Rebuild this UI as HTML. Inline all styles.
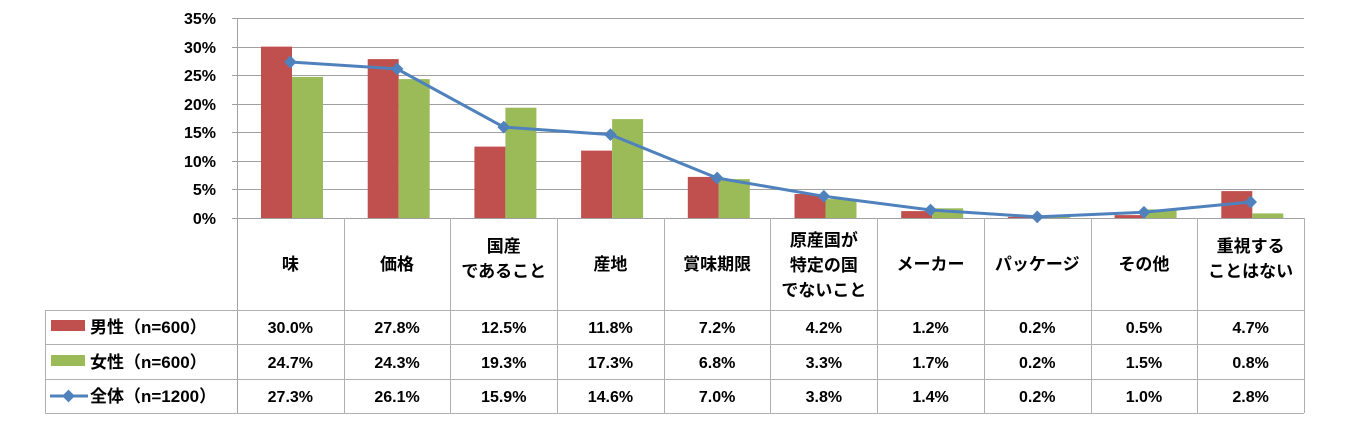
<!DOCTYPE html>
<html><head><meta charset="utf-8"><style>
body{margin:0;background:#fff}
text{font-family:"Liberation Sans","Noto Sans CJK JP",sans-serif;font-weight:bold;fill:#000}
</style></head><body>
<svg width="1361" height="433" xmlns="http://www.w3.org/2000/svg">
<g stroke="#a0a0a0" stroke-width="1">
<line x1="232" y1="18.5" x2="1304" y2="18.5"/>
<line x1="232" y1="47.5" x2="1304" y2="47.5"/>
<line x1="232" y1="75.5" x2="1304" y2="75.5"/>
<line x1="232" y1="104.5" x2="1304" y2="104.5"/>
<line x1="232" y1="132.5" x2="1304" y2="132.5"/>
<line x1="232" y1="161.5" x2="1304" y2="161.5"/>
<line x1="232" y1="189.5" x2="1304" y2="189.5"/>
<line x1="232" y1="218.5" x2="1304" y2="218.5"/>
<line x1="237.5" y1="18" x2="237.5" y2="413"/>
</g>
<g font-size="16" text-anchor="end">
<text x="216" y="24">35%</text><text x="216" y="53">30%</text><text x="216" y="81">25%</text>
<text x="216" y="110">20%</text><text x="216" y="138">15%</text><text x="216" y="167">10%</text>
<text x="216" y="195">5%</text><text x="216" y="224">0%</text>
</g>
<g fill="#c0504d">
<rect x="261" y="46.6" width="31" height="171.4"/>
<rect x="367.7" y="59.1" width="31" height="158.9"/>
<rect x="474.4" y="146.6" width="31" height="71.4"/>
<rect x="581.1" y="150.6" width="31" height="67.4"/>
<rect x="687.8" y="176.9" width="31" height="41.1"/>
<rect x="794.5" y="194" width="31" height="24"/>
<rect x="901.2" y="211.1" width="31" height="6.9"/>
<rect x="1007.9" y="216.9" width="31" height="1.1"/>
<rect x="1114.6" y="215.1" width="31" height="2.9"/>
<rect x="1221.3" y="191.1" width="31" height="26.9"/>
</g>
<g fill="#9bbb59">
<rect x="292" y="76.9" width="31" height="141.1"/>
<rect x="398.7" y="79.1" width="31" height="138.9"/>
<rect x="505.4" y="107.7" width="31" height="110.3"/>
<rect x="612.1" y="119.1" width="31" height="98.9"/>
<rect x="718.8" y="179.1" width="31" height="38.9"/>
<rect x="825.5" y="199.1" width="31" height="18.9"/>
<rect x="932.2" y="208.3" width="31" height="9.7"/>
<rect x="1038.9" y="216.9" width="31" height="1.1"/>
<rect x="1145.6" y="209.4" width="31" height="8.6"/>
<rect x="1252.3" y="213.4" width="31" height="4.6"/>
</g>
<g stroke="#b0b0b0" stroke-width="1" fill="none">
<line x1="45" y1="310.5" x2="1304" y2="310.5"/>
<line x1="45" y1="344.5" x2="1304" y2="344.5"/>
<line x1="45" y1="379.5" x2="1304" y2="379.5"/>
<line x1="45" y1="413.5" x2="1304" y2="413.5"/>
<line x1="45.5" y1="310" x2="45.5" y2="413"/>
<line x1="344.5" y1="218" x2="344.5" y2="413"/>
<line x1="450.5" y1="218" x2="450.5" y2="413"/>
<line x1="557.5" y1="218" x2="557.5" y2="413"/>
<line x1="664.5" y1="218" x2="664.5" y2="413"/>
<line x1="770.5" y1="218" x2="770.5" y2="413"/>
<line x1="877.5" y1="218" x2="877.5" y2="413"/>
<line x1="984.5" y1="218" x2="984.5" y2="413"/>
<line x1="1091.5" y1="218" x2="1091.5" y2="413"/>
<line x1="1197.5" y1="218" x2="1197.5" y2="413"/>
<line x1="1304.5" y1="218" x2="1304.5" y2="413"/>
</g>
<polyline fill="none" stroke="#4f81bd" stroke-width="3" points="290.35,62 397.05,68.9 503.75,127.1 610.45,134.6 717.15,178 823.85,196.3 930.55,210 1037.25,216.9 1143.95,212.3 1250.65,202"/>
<g fill="#4f81bd">
<rect x="-4.5" y="-4.5" width="9" height="9" transform="translate(290.35 62) rotate(45)"/>
<rect x="-4.5" y="-4.5" width="9" height="9" transform="translate(397.05 68.9) rotate(45)"/>
<rect x="-4.5" y="-4.5" width="9" height="9" transform="translate(503.75 127.1) rotate(45)"/>
<rect x="-4.5" y="-4.5" width="9" height="9" transform="translate(610.45 134.6) rotate(45)"/>
<rect x="-4.5" y="-4.5" width="9" height="9" transform="translate(717.15 178) rotate(45)"/>
<rect x="-4.5" y="-4.5" width="9" height="9" transform="translate(823.85 196.3) rotate(45)"/>
<rect x="-4.5" y="-4.5" width="9" height="9" transform="translate(930.55 210) rotate(45)"/>
<rect x="-4.5" y="-4.5" width="9" height="9" transform="translate(1037.25 216.9) rotate(45)"/>
<rect x="-4.5" y="-4.5" width="9" height="9" transform="translate(1143.95 212.3) rotate(45)"/>
<rect x="-4.5" y="-4.5" width="9" height="9" transform="translate(1250.65 202) rotate(45)"/>
</g>
<g font-size="17" text-anchor="middle">
<text x="290.35" y="270">味</text>
<text x="397.05" y="270">価格</text>
<text x="503.75" y="252">国産</text><text x="503.75" y="277">であること</text>
<text x="610.45" y="270">産地</text>
<text x="717.15" y="270">賞味期限</text>
<text x="823.85" y="246">原産国が</text><text x="823.85" y="271">特定の国</text><text x="823.85" y="296">でないこと</text>
<text x="930.55" y="270">メーカー</text>
<text x="1037.25" y="270">パッケージ</text>
<text x="1143.95" y="270">その他</text>
<text x="1250.65" y="252">重視する</text><text x="1250.65" y="277">ことはない</text>
</g>
<g font-size="16" text-anchor="middle">
<text x="290.35" y="333">30.0%</text><text x="397.05" y="333">27.8%</text><text x="503.75" y="333">12.5%</text><text x="610.45" y="333">11.8%</text><text x="717.15" y="333">7.2%</text><text x="823.85" y="333">4.2%</text><text x="930.55" y="333">1.2%</text><text x="1037.25" y="333">0.2%</text><text x="1143.95" y="333">0.5%</text><text x="1250.65" y="333">4.7%</text>
<text x="290.35" y="368">24.7%</text><text x="397.05" y="368">24.3%</text><text x="503.75" y="368">19.3%</text><text x="610.45" y="368">17.3%</text><text x="717.15" y="368">6.8%</text><text x="823.85" y="368">3.3%</text><text x="930.55" y="368">1.7%</text><text x="1037.25" y="368">0.2%</text><text x="1143.95" y="368">1.5%</text><text x="1250.65" y="368">0.8%</text>
<text x="290.35" y="402">27.3%</text><text x="397.05" y="402">26.1%</text><text x="503.75" y="402">15.9%</text><text x="610.45" y="402">14.6%</text><text x="717.15" y="402">7.0%</text><text x="823.85" y="402">3.8%</text><text x="930.55" y="402">1.4%</text><text x="1037.25" y="402">0.2%</text><text x="1143.95" y="402">1.0%</text><text x="1250.65" y="402">2.8%</text>
</g>
<rect x="51" y="320" width="34" height="11" fill="#c0504d"/>
<rect x="51" y="355" width="34" height="11" fill="#9bbb59"/>
<line x1="50" y1="396" x2="88" y2="396" stroke="#4f81bd" stroke-width="3"/>
<rect x="-4.5" y="-4.5" width="9" height="9" fill="#4f81bd" transform="translate(68.5 396) rotate(45)"/>
<g font-size="17" text-anchor="start">
<text x="90" y="333">男性（n=600）</text>
<text x="90" y="368">女性（n=600）</text>
<text x="90" y="402">全体（n=1200）</text>
</g>
</svg>
</body></html>
